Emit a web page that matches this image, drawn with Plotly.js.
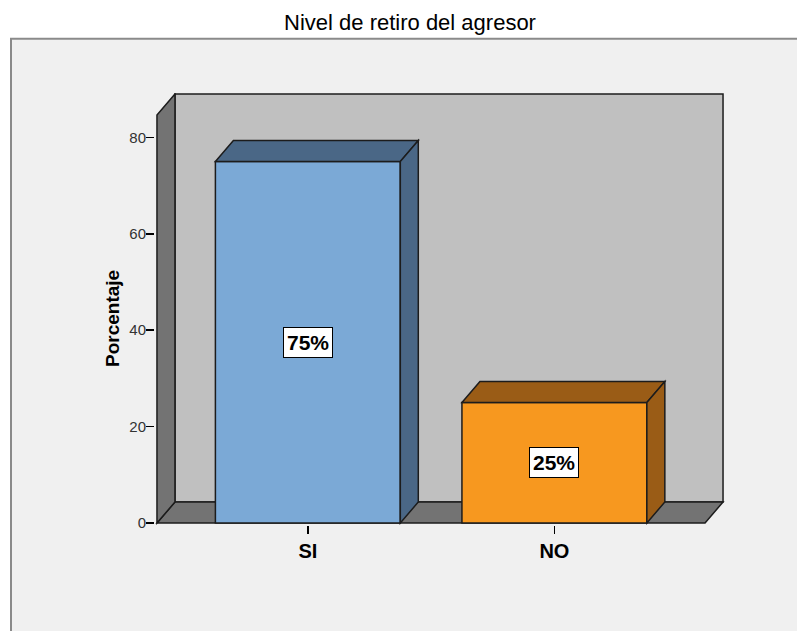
<!DOCTYPE html>
<html>
<head>
<meta charset="utf-8">
<script src="https://cdn.plot.ly/plotly-3.0.1.min.js"></script>
<style>html,body{margin:0;padding:0;background:#fff;}#chart{width:797px;height:631px;}</style>
</head>
<body>
<div id="chart"></div>
<script>
// ---- data ----
const categories = ['SI', 'NO'];
const percentages = [75, 25];
const labelTexts = ['75%', '25%'];
const yTickValues = [0, 20, 40, 60, 80];
const chartTitle = 'Nivel de retiro del agresor';
const yTitle = 'Porcentaje';

// ---- styling ----
const frontColors = ['#7BA9D6', '#F7981F'];
const shadeColors = ['#4A6786', '#9A5C16'];
const outline = '#1c1c1c';
const FONT = 'Liberation Sans, Arial, sans-serif';

// geometry (data units for the 3D look)
const BAR_W = 0.75;
const DX = 0.073;          // depth offset along x
const DY = 4.36;           // depth offset along y
const X_LEFT = -0.612;     // front left edge of the floor
const X_RIGHT = 1.611;     // front right edge of the floor
const WALL_TOP = 89;       // back wall top
const xRange = [-0.620, 1.692];
const yRange = [-0.415, 89.2];

const traces = [{
  type: 'bar',
  x: categories.map((c, i) => i),
  y: percentages,
  width: BAR_W,
  marker: {color: frontColors, line: {color: outline, width: 1.5}},
  hoverinfo: 'skip',
  showlegend: false
}];

function poly(pts) {
  return 'M' + pts.map(p => p[0] + ',' + p[1]).join('L') + 'Z';
}

const shapes = [];
// outer frame (paper space)
shapes.push({type: 'rect', xref: 'paper', yref: 'paper', layer: 'below',
  x0: (11 - 155) / 570, x1: (800 - 155) / 570,
  y0: (524.7 - 640) / 430.7, y1: (524.7 - 40) / 430.7,
  fillcolor: '#F0F0F0', line: {color: '#8A8A8A', width: 2}});
// back wall
shapes.push({type: 'path', xref: 'x', yref: 'y', layer: 'below',
  path: poly([[X_LEFT + DX, DY], [X_RIGHT + DX, DY], [X_RIGHT + DX, WALL_TOP], [X_LEFT + DX, WALL_TOP]]),
  fillcolor: '#C0C0C0', line: {color: outline, width: 1.5}});
// floor
shapes.push({type: 'path', xref: 'x', yref: 'y', layer: 'below',
  path: poly([[X_LEFT, 0], [X_RIGHT, 0], [X_RIGHT + DX, DY], [X_LEFT + DX, DY]]),
  fillcolor: '#737373', line: {color: outline, width: 1.5}});
// left side wall
shapes.push({type: 'path', xref: 'x', yref: 'y', layer: 'below',
  path: poly([[X_LEFT, 0], [X_LEFT + DX, DY], [X_LEFT + DX, WALL_TOP], [X_LEFT, WALL_TOP - DY]]),
  fillcolor: '#737373', line: {color: outline, width: 1.5}});

// bar tops and sides
percentages.forEach((v, i) => {
  const l = i - BAR_W / 2, r = i + BAR_W / 2;
  shapes.push({type: 'path', xref: 'x', yref: 'y', layer: 'above',
    path: poly([[l, v], [r, v], [r + DX, v + DY], [l + DX, v + DY]]),
    fillcolor: shadeColors[i], line: {color: outline, width: 1.5}});
  shapes.push({type: 'path', xref: 'x', yref: 'y', layer: 'above',
    path: poly([[r, 0], [r + DX, DY], [r + DX, v + DY], [r, v]]),
    fillcolor: shadeColors[i], line: {color: outline, width: 1.5}});
});

const annotations = percentages.map((v, i) => ({
  x: i, y: v / 2, xref: 'x', yref: 'y', text: labelTexts[i], showarrow: false,
  bgcolor: '#FFFFFF', bordercolor: '#000000', borderwidth: 1, borderpad: 3,
  font: {family: FONT, size: 21, color: '#000', weight: 'bold'}
}));
// y-axis title, centred on the front axis span
annotations.push({
  text: yTitle, textangle: -90, showarrow: false,
  xref: 'paper', yref: 'y', x: (113 - 155) / 570, xanchor: 'center',
  y: (WALL_TOP - DY) / 2, yanchor: 'middle',
  font: {family: FONT, size: 19, color: '#000', weight: 'bold'}
});

const layout = {
  width: 797, height: 631,
  paper_bgcolor: '#FFFFFF', plot_bgcolor: 'rgba(0,0,0,0)',
  margin: {l: 155, r: 72, t: 93, b: 106.3, pad: 0},
  title: {text: chartTitle, font: {family: FONT, size: 22, color: '#000'},
    xref: 'container', yref: 'container', x: 410 / 797, xanchor: 'center',
    y: 1 - 22 / 631, yanchor: 'middle'},
  xaxis: {range: xRange, tickmode: 'array', tickvals: categories.map((c, i) => i), ticktext: categories,
    showline: false, showgrid: false, zeroline: false, ticks: 'outside', ticklen: 8, tickwidth: 1.5, tickcolor: '#000',
    tickfont: {family: FONT, size: 20, color: '#000', weight: 'bold'}, fixedrange: true},
  yaxis: {range: yRange, tickmode: 'array', tickvals: yTickValues, ticktext: yTickValues.map(String),
    showline: false, showgrid: false, zeroline: false, ticks: 'outside', ticklen: 8, tickwidth: 1.5, tickcolor: '#000',
    ticklabelstandoff: -3,
    tickfont: {family: FONT, size: 15, color: '#333'}, fixedrange: true},
  shapes: shapes,
  annotations: annotations,
  bargap: 0
};

Plotly.newPlot('chart', traces, layout, {displayModeBar: false, staticPlot: true});
</script>
</body>
</html>
